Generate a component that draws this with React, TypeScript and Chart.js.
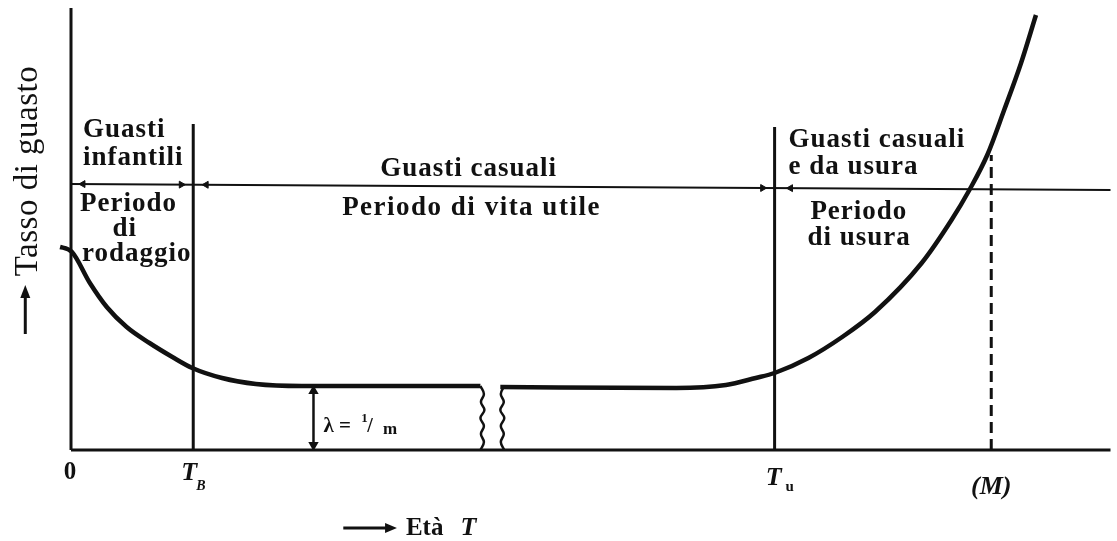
import React, { useEffect, useRef } from "react";
import { Chart, registerables } from "chart.js";

Chart.register(...registerables);

// ---- Data (arbitrary units: age on x, failure rate on y) ----
const X_MAX = 104.6;
const Y_MAX = 44.2;

// bathtub curve, infant-mortality + start of useful life (before the axis break)
const earlyAge = [-1.9, -1.1, 0.1, 1.9, 3.6, 5.6, 7.9, 10.2, 12.2, 15.2, 18.6, 23.2, 41.2];
const earlyRate = [20.4, 20.3, 19.8, 16.7, 14.3, 12.3, 10.7, 9.3, 8.2, 7.2, 6.6, 6.4, 6.4];
// bathtub curve after the break: useful life + wear-out
const lateAge = [43.2, 60.9, 65.9, 68.9, 70.8, 74.2, 77.6, 80.9, 85.6, 88.6, 90.4, 92.2, 93.9, 95.6, 97.1];
const lateRate = [6.3, 6.2, 6.5, 7.2, 7.7, 9.2, 11.3, 13.8, 18.7, 23.0, 26.0, 29.5, 34.0, 38.7, 43.5];

// vertical markers
const markerAges = [12.3, 70.8]; // T_B, T_u
const markerTops = [32.6, 32.3];
const mAge = 92.6; // M (dashed)
const mTop = 29.5;

// horizontal period line (age ends, rate levels)
const periodAge = [0, X_MAX];
const periodRate = [26.6, 26.0];
// arrowheads along the period line: age and direction (1 = right, -1 = left)
const periodArrowAge = [1.2, 11.1, 13.6, 69.6, 72.4];
const periodArrowDir = [-1, 1, -1, 1, -1];

// lambda = 1/m marker
const lambdaAge = 24.4;
const lambdaRate = 6.4;

// break squiggles
const breakLeftAge = 41.2;
const breakRightAge = 43.2;
const breakRates = [6.4, 5.6, 4.8, 4.0, 3.2, 2.4, 1.6, 0.8, 0];
const breakWiggle = [0, 0.35, 0.05, 0.4, 0, 0.35, 0.05, 0.35, 0];

// tick labels
const tickZero = "0";

const INK = "#111";
const SERIF = "'Liberation Serif', 'Times New Roman', serif";

function interpPeriod(x: number) {
  const t = (x - periodAge[0]) / (periodAge[1] - periodAge[0]);
  return periodRate[0] + t * (periodRate[1] - periodRate[0]);
}

const zip = (xs: number[], ys: number[]) => xs.map((x, i) => ({ x, y: ys[i] }));

const labelsPlugin = {
  id: "bathtubLabels",
  afterDatasetsDraw(chart: any) {
    const ctx: CanvasRenderingContext2D = chart.ctx;
    const xs = chart.scales.x;
    const ys = chart.scales.y;
    const px = (v: number) => xs.getPixelForValue(v);
    const py = (v: number) => ys.getPixelForValue(v);
    ctx.save();
    ctx.fillStyle = INK;
    ctx.strokeStyle = INK;
    ctx.textBaseline = "alphabetic";

    const text = (s: string, x: number, y: number, align: CanvasTextAlign, font: string, spacing = "0px") => {
      ctx.font = font;
      ctx.textAlign = align;
      (ctx as any).letterSpacing = spacing;
      ctx.fillText(s, px(x), py(y));
    };

    const main = `bold 27px ${SERIF}`;
    const sp = "1px";
    // left block
    text("Guasti", 1.2, 31.3, "left", main, sp);
    text("infantili", 1.2, 28.5, "left", main, sp);
    text("Periodo", 0.9, 23.9, "left", main, sp);
    text("di", 5.4, 21.4, "center", main, sp);
    text("rodaggio", 1.1, 18.9, "left", main, sp);
    // middle block
    text("Guasti casuali", 40.0, 27.4, "center", main, sp);
    text("Periodo di vita utile", 40.3, 23.5, "center", main, "1.5px");
    // right block
    text("Guasti casuali", 72.2, 30.3, "left", main, sp);
    text("e da usura", 72.2, 27.6, "left", main, sp);
    text("Periodo", 74.4, 23.1, "left", main, sp);
    text("di usura", 74.1, 20.5, "left", main, sp);

    // tick labels
    text(tickZero, -0.1, -2.9, "center", `bold 25px ${SERIF}`);
    text("T", 11.1, -3.0, "left", `italic bold 26px ${SERIF}`);
    text("B", 12.6, -4.0, "left", `italic bold 14px ${SERIF}`);
    text("T", 69.9, -3.5, "left", `italic bold 26px ${SERIF}`);
    text("u", 71.9, -4.1, "left", `bold 15px ${SERIF}`);
    text("(M)", 92.6, -4.4, "center", `italic bold 26px ${SERIF}`);

    // lambda label
    text("λ = ", 25.4, 1.8, "left", `bold 21px ${SERIF}`);
    text("1", 29.2, 2.8, "left", `bold 13px ${SERIF}`);
    text("/", 29.8, 1.8, "left", `bold 20px ${SERIF}`);
    text("m", 31.4, 1.6, "left", `bold 17px ${SERIF}`);

    // x-axis title with arrow
    ctx.lineWidth = 3;
    ctx.beginPath();
    ctx.moveTo(px(27.4), py(-7.8));
    ctx.lineTo(px(32.0), py(-7.8));
    ctx.stroke();
    ctx.beginPath();
    ctx.moveTo(px(32.8), py(-7.8));
    ctx.lineTo(px(31.6), py(-7.8) - 5);
    ctx.lineTo(px(31.6), py(-7.8) + 5);
    ctx.closePath();
    ctx.fill();
    text("Età", 33.7, -8.5, "left", `bold 25px ${SERIF}`);
    text("T", 39.2, -8.5, "left", `italic bold 26px ${SERIF}`);

    // y-axis title (rotated) with arrow
    ctx.save();
    ctx.translate(px(-4.3), py(27.9));
    ctx.rotate(-Math.PI / 2);
    ctx.font = `33px ${SERIF}`;
    ctx.textAlign = "center";
    ctx.textBaseline = "middle";
    (ctx as any).letterSpacing = "0.5px";
    ctx.fillText("Tasso di guasto", 0, 0);
    ctx.restore();
    ctx.lineWidth = 3;
    ctx.beginPath();
    ctx.moveTo(px(-4.6), py(11.6));
    ctx.lineTo(px(-4.6), py(15.8));
    ctx.stroke();
    ctx.beginPath();
    ctx.moveTo(px(-4.6), py(16.5));
    ctx.lineTo(px(-4.6) - 5, py(15.2));
    ctx.lineTo(px(-4.6) + 5, py(15.2));
    ctx.closePath();
    ctx.fill();

    ctx.restore();
  },
};

export default function App() {
  const ref = useRef<HTMLCanvasElement | null>(null);

  useEffect(() => {
    document.body.style.margin = "0";
    document.body.style.background = "#fff";
    if (!ref.current) return;

    const lineBase = {
      borderColor: INK,
      backgroundColor: INK,
      pointRadius: 0,
      fill: false,
      clip: false as any,
      showLine: true,
    };

    const datasets: any[] = [
      // y axis
      { ...lineBase, data: [{ x: 0, y: 0 }, { x: 0, y: Y_MAX }], borderWidth: 3 },
      // x axis
      { ...lineBase, data: [{ x: 0, y: 0 }, { x: X_MAX, y: 0 }], borderWidth: 3 },
      // curve
      { ...lineBase, data: zip(earlyAge, earlyRate), borderWidth: 4.5, cubicInterpolationMode: "monotone" },
      { ...lineBase, data: zip(lateAge, lateRate), borderWidth: 4.5, cubicInterpolationMode: "monotone" },
      // T_B and T_u
      ...markerAges.map((a, i) => ({
        ...lineBase,
        data: [{ x: a, y: 0 }, { x: a, y: markerTops[i] }],
        borderWidth: 3,
      })),
      // M dashed
      { ...lineBase, data: [{ x: mAge, y: 0 }, { x: mAge, y: mTop }], borderWidth: 3, borderDash: [11, 6] },
      // period line
      { ...lineBase, data: zip(periodAge, periodRate), borderWidth: 2 },
      // period arrowheads
      {
        ...lineBase,
        showLine: false,
        data: periodArrowAge.map((a) => ({ x: a, y: interpPeriod(a) })),
        pointStyle: "triangle",
        pointRadius: 4,
        pointRotation: periodArrowDir.map((d) => (d > 0 ? 90 : -90)),
        borderWidth: 1,
      },
      // lambda marker
      {
        ...lineBase,
        data: [{ x: lambdaAge, y: 0.5 }, { x: lambdaAge, y: lambdaRate - 0.5 }],
        borderWidth: 2.5,
        pointStyle: "triangle",
        pointRadius: 3.5,
        pointRotation: [180, 0],
      },
      // break squiggles
      {
        ...lineBase,
        data: breakRates.map((r, i) => ({ x: breakLeftAge + breakWiggle[i], y: r })),
        borderWidth: 2.5,
        tension: 0.4,
      },
      {
        ...lineBase,
        data: breakRates.map((r, i) => ({ x: breakRightAge + 0.4 - breakWiggle[i], y: r })),
        borderWidth: 2.5,
        tension: 0.4,
      },
    ];

    const chart = new Chart(ref.current, {
      type: "line",
      data: { datasets },
      options: {
        animation: false,
        responsive: false,
        devicePixelRatio: 1,
        layout: { padding: { left: 71, right: 0, top: 8, bottom: 91 } },
        plugins: { legend: { display: false }, tooltip: { enabled: false }, title: { display: false } },
        scales: {
          x: { type: "linear", min: 0, max: X_MAX, display: false },
          y: { type: "linear", min: 0, max: Y_MAX, display: false },
        },
        elements: { line: { borderCapStyle: "butt" } },
      },
      plugins: [labelsPlugin],
    } as any);

    return () => chart.destroy();
  }, []);

  return (
    <div style={{ width: 1117, height: 541, background: "#fff" }}>
      <canvas ref={ref} width={1117} height={541} style={{ display: "block" }} />
    </div>
  );
}
